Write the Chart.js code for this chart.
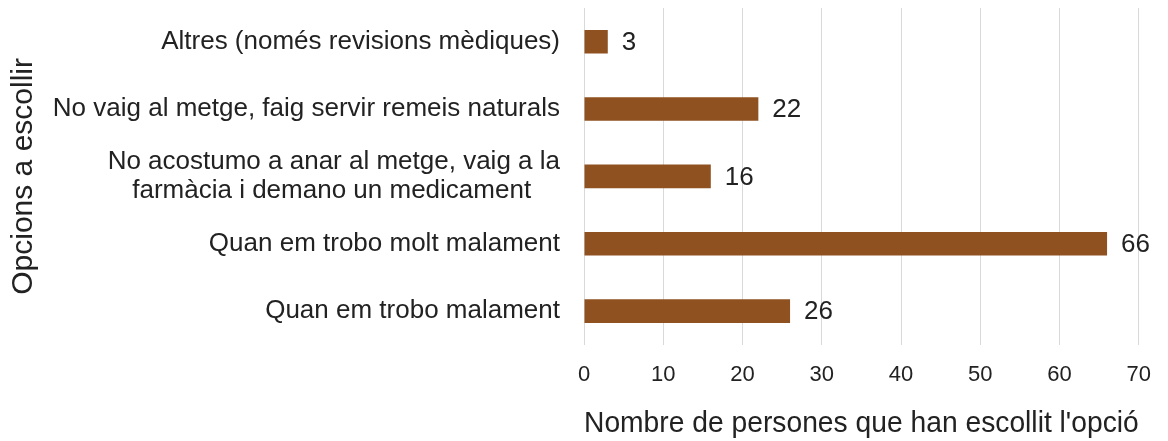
<!DOCTYPE html>
<html>
<head>
<meta charset="utf-8">
<script src="https://cdn.jsdelivr.net/npm/chart.js@4"></script>
<style>
  html, body { margin: 0; padding: 0; background: #fff; }
  #wrap { width: 1168px; height: 441px; }
</style>
</head>
<body>
<div id="wrap"><canvas id="myChart" width="1168" height="441"></canvas></div>
<script>
var categories = [
    "Altres (només revisions mèdiques)",
    "No vaig al metge, faig servir remeis naturals",
    ["No acostumo a anar al metge, vaig a la", "farmàcia i demano un medicament"],
    "Quan em trobo molt malament",
    "Quan em trobo malament"
];
var amounts = [3, 22, 16, 66, 26];
var tickValues = [0, 10, 20, 30, 40, 50, 60, 70];

var barColor = '#8F5120';
var textColor = '#222222';
var fontFamily = '"Liberation Sans", Arial, sans-serif';
var labelFont = '26px ' + fontFamily;

// draw the value at the end of each bar
var valueLabels = {
    id: 'valueLabels',
    afterDatasetsDraw: function(chart)
    {
        var ctx = chart.ctx;
        var meta = chart.getDatasetMeta(0);
        ctx.save();
        ctx.font = '26px ' + fontFamily;
        ctx.fillStyle = textColor;
        ctx.textAlign = 'left';
        ctx.textBaseline = 'middle';
        meta.data.forEach(function(bar, i)
        {
            ctx.fillText(String(amounts[i]), bar.x + 14, bar.y + 1);
        });
        ctx.restore();
    }
};

// centre the lines of a multi-line label by padding the short ones with spaces
var measureCtx = document.createElement('canvas').getContext('2d');
function centreLines(label)
{
    if (!Array.isArray(label)) return label;
    measureCtx.font = labelFont;
    var widths = label.map(function(l) { return measureCtx.measureText(l).width; });
    var maxW = Math.max.apply(null, widths);
    var sp = measureCtx.measureText(' ').width;
    return label.map(function(l, i)
    {
        var n = Math.round((maxW - widths[i]) / 2 / sp);
        return l + ' '.repeat(n);
    });
}

window.onload = function()
{
    var ctx = document.getElementById("myChart").getContext("2d");

    var myChart = new Chart(ctx,
    {
        type: 'bar',
        data:
        {
            labels: categories,
            datasets:
            [{
                label: 'Persones',
                data: amounts,
                backgroundColor: barColor,
                borderWidth: 0,
                barPercentage: 0.7,
                categoryPercentage: 0.5
            }]
        },
        plugins: [valueLabels],
        options:
        {
            indexAxis: 'y',
            responsive: false,
            animation: false,
            layout:
            {
                padding: { top: 8, right: 21, bottom: 0, left: 0 }
            },
            plugins:
            {
                legend: { display: false },
                tooltip: { enabled: false }
            },
            scales:
            {
                x:
                {
                    min: 0,
                    max: 70,
                    afterBuildTicks: function(scale)
                    {
                        scale.ticks = tickValues.map(function(v) { return { value: v }; });
                    },
                    grid: { color: '#d9d9d9', drawTicks: false, lineWidth: 1 },
                    border: { display: false },
                    ticks:
                    {
                        color: textColor,
                        padding: 17,
                        font: { size: 22, family: fontFamily }
                    },
                    title:
                    {
                        display: true,
                        text: "Nombre de persones que han escollit l'opció",
                        color: textColor,
                        font: { size: 29, family: fontFamily },
                        padding: { top: 1, bottom: 0 }
                    }
                },
                y:
                {
                    grid: { display: false, drawTicks: false },
                    border: { display: false },
                    afterFit: function(scale)
                    {
                        scale.width = 584;
                        scale.paddingTop = 0;
                        scale.paddingBottom = 0;
                    },
                    ticks:
                    {
                        color: textColor,
                        padding: 24,
                        autoSkip: false,
                        font: { size: 26, family: fontFamily, lineHeight: 1.1 },
                        callback: function(value)
                        {
                            return centreLines(categories[value]);
                        }
                    },
                    title:
                    {
                        display: true,
                        text: 'Opcions a escollir',
                        color: textColor,
                        font: { size: 30, family: fontFamily },
                        padding: { top: 6, bottom: 0 }
                    }
                }
            }
        }
    });
};
</script>
</body>
</html>
